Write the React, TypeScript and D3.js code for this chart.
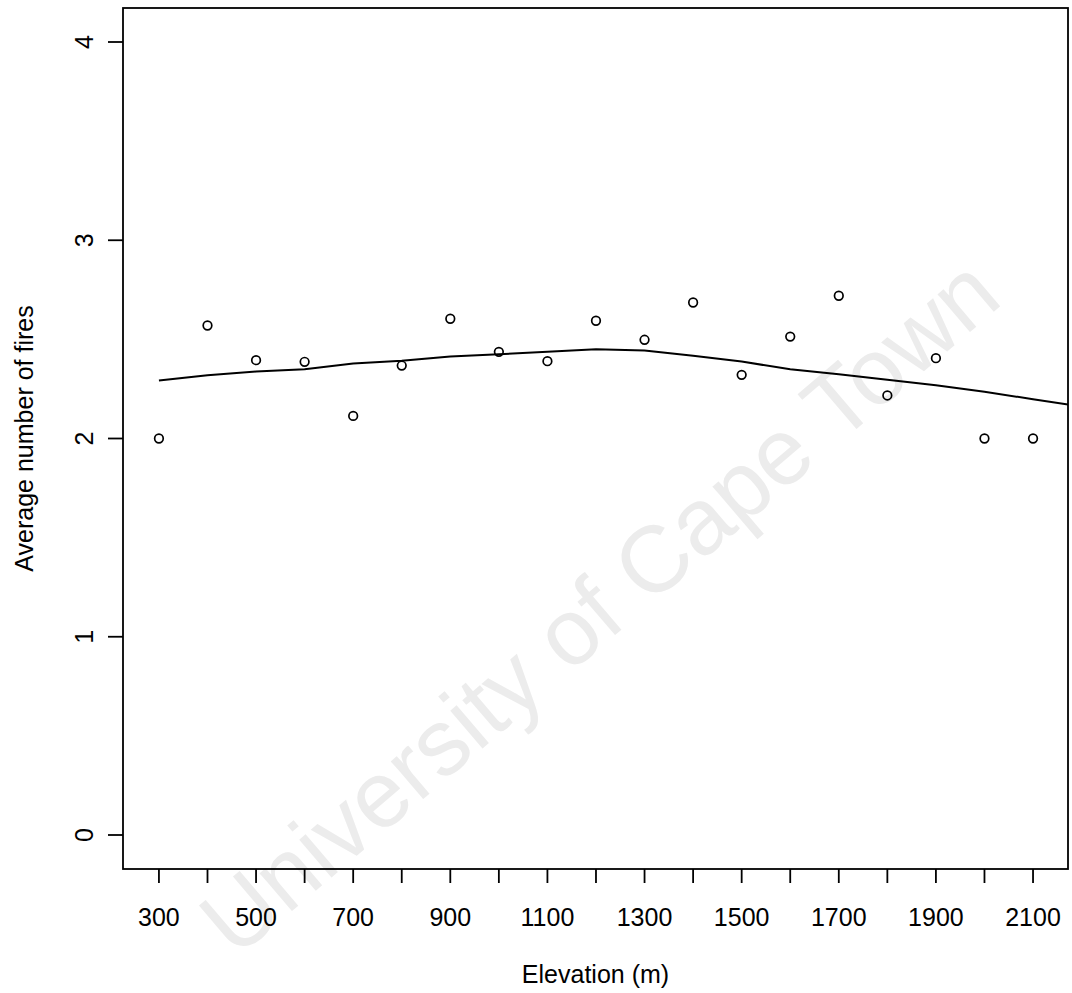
import React from "react";
import * as d3 from "d3";

const elevations = [300, 400, 500, 600, 700, 800, 900, 1000, 1100, 1200, 1300, 1400, 1500, 1600, 1700, 1800, 1900, 2000, 2100];
const avgFires = [2.0, 2.57, 2.395, 2.387, 2.114, 2.368, 2.604, 2.437, 2.39, 2.594, 2.498, 2.686, 2.321, 2.514, 2.72, 2.217, 2.405, 2.0, 2.0];

const smoothX = [300, 400, 500, 600, 700, 800, 900, 1000, 1100, 1200, 1300, 1400, 1500, 1600, 1700, 1800, 1900, 2000, 2100, 2172];
const smoothY = [2.292, 2.319, 2.338, 2.349, 2.378, 2.392, 2.414, 2.425, 2.437, 2.45, 2.444, 2.417, 2.388, 2.349, 2.324, 2.296, 2.269, 2.236, 2.198, 2.171];

const xTicks = [300, 400, 500, 600, 700, 800, 900, 1000, 1100, 1200, 1300, 1400, 1500, 1600, 1700, 1800, 1900, 2000, 2100];
const xTickLabels = [300, 500, 700, 900, 1100, 1300, 1500, 1700, 1900, 2100];
const yTicks = [0, 1, 2, 3, 4];

const W = 1072;
const H = 993;
const L = 123, R = 1068, T = 8, B = 869;

export default function App() {
  const x = d3.scaleLinear().domain([226, 2172]).range([L, R]);
  const y = d3.scaleLinear().domain([-0.1715, 4.1715]).range([B, T]);
  const line = d3
    .line<number>()
    .x((_, i) => x(smoothX[i]))
    .y((d) => y(d));
  const font = "'Liberation Sans', Arial, Helvetica, sans-serif";
  return (
    <svg
      width={W}
      height={H}
      style={{ position: "absolute", left: 0, top: 0, background: "#fff" }}
      fontFamily={font}
    >
      <defs>
        <clipPath id="plotclip">
          <rect x={L} y={T} width={R - L} height={B - T} />
        </clipPath>
      </defs>
      <rect x={0} y={0} width={W} height={H} fill="#fff" />
      <text
        transform="translate(604,612) rotate(-40.5)"
        textAnchor="middle"
        dominantBaseline="middle"
        fontSize={94}
        fill="#ececec"
      >
        University of Cape Town
      </text>
      <g clipPath="url(#plotclip)">
        <path d={line(smoothY) || ""} fill="none" stroke="#000" strokeWidth={2} />
      </g>
      {elevations.map((e, i) => (
        <circle key={e} cx={x(e)} cy={y(avgFires[i])} r={4.3} fill="none" stroke="#000" strokeWidth={1.7} />
      ))}
      <rect x={L} y={T} width={R - L} height={B - T} fill="none" stroke="#000" strokeWidth={1.8} />
      {xTicks.map((t) => (
        <line key={t} x1={x(t)} x2={x(t)} y1={B} y2={B + 14} stroke="#000" strokeWidth={1.8} />
      ))}
      {xTickLabels.map((t) => (
        <text key={t} x={x(t)} y={926} textAnchor="middle" fontSize={25} fill="#000">
          {t}
        </text>
      ))}
      {yTicks.map((t) => (
        <g key={t}>
          <line x1={L - 15} x2={L} y1={y(t)} y2={y(t)} stroke="#000" strokeWidth={1.8} />
          <text
            transform={`translate(93,${y(t)}) rotate(-90)`}
            textAnchor="middle"
            fontSize={25}
            fill="#000"
          >
            {t}
          </text>
        </g>
      ))}
      <text x={(L + R) / 2} y={983} textAnchor="middle" fontSize={25} fill="#000">
        Elevation (m)
      </text>
      <text
        transform={`translate(33,${(T + B) / 2}) rotate(-90)`}
        textAnchor="middle"
        fontSize={25}
        fill="#000"
      >
        Average number of fires
      </text>
    </svg>
  );
}
